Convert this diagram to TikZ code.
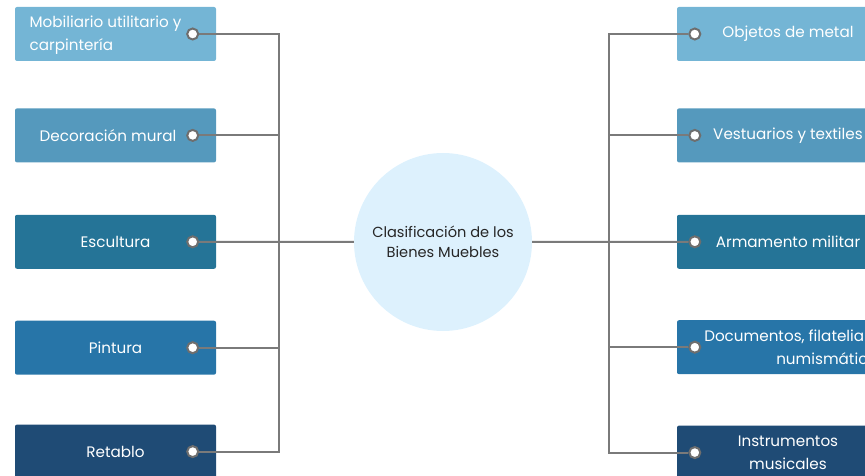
\documentclass[tikz,border=0pt]{standalone}
\usepackage{fontspec}
\setmainfont{Poppins}
\usetikzlibrary{positioning}

\definecolor{boxa}{HTML}{74B5D5}
\definecolor{boxb}{HTML}{5599BD}
\definecolor{boxc}{HTML}{257497}
\definecolor{boxd}{HTML}{2775A8}
\definecolor{boxe}{HTML}{1F4B75}
\definecolor{hubfill}{HTML}{DDF1FD}
\definecolor{linkgray}{HTML}{7A7A7A}
\definecolor{dotgray}{HTML}{6E6E6E}

\begin{document}
\begin{tikzpicture}[x=1pt, y=-1pt,
    lbox/.style={rounded corners=2pt, minimum width=201pt, minimum height=54pt, inner sep=0pt,
      align=center, text=white, font=\fontsize{15.2}{23}\selectfont},
    rbox/.style={lbox, minimum width=222pt},
    hub/.style={circle, fill=hubfill, minimum size=178pt, inner sep=0pt, align=center,
      text=black!85, font=\fontsize{14.6}{20}\selectfont},
    dot/.style={circle, draw=dotgray, fill=white, line width=2pt, minimum size=11pt, inner sep=0pt},
    link/.style={draw=linkgray, line width=2pt}
  ]
    \useasboundingbox (0,0) rectangle (865,476);
    \clip (0,0) rectangle (865,476);

    \node[hub] (hub) at (443,242) {Clasificación de los\\Bienes Muebles};

    % left column
    \node[lbox, fill=boxa] (mob) at (115.5,34) {\begin{tabular}{@{}l@{}}Mobiliario utilitario y\\carpintería\end{tabular}\hspace{20pt}};
    \node[lbox, fill=boxb, below=47pt of mob] (dec) {Decoración mural\hspace{15pt}};
    \node[lbox, fill=boxc, below=52pt of dec] (esc) {Escultura};
    \node[lbox, fill=boxd, below=51.5pt of esc] (pin) {Pintura};
    \node[lbox, fill=boxe, below=49.5pt of pin] (ret) {Retablo};

    % right column
    \node[rbox, fill=boxa] (met) at (788,34) {Objetos de metal};
    \node[rbox, fill=boxb, below=47pt of met] (ves) {Vestuarios y textiles};
    \node[rbox, fill=boxc, below=52pt of ves] (arm) {Armamento militar};
    \node[rbox, fill=boxd, below=51pt of arm, align=left] (doc) {\hspace*{6pt}Documentos, filatelia y\\\hspace*{78pt}numismática};
    \node[rbox, fill=boxe, below=51pt of doc] (ins) {Instrumentos\\musicales};

    % dots
    \foreach \b in {mob,dec,esc,pin,ret}
      \node[dot] (d\b) at ([xshift=-23.5pt]\b.east) {};
    \foreach \b in {met,ves,arm,doc,ins}
      \node[dot] (d\b) at ([xshift=18pt]\b.west) {};

    \coordinate (lbus) at (279,241);
    \coordinate (rbus) at (609,241);

    \draw[link] (dmob.east) -| (lbus) |- (dret.east);
    \draw[link] (ddec.east) -| (lbus);
    \draw[link] (dpin.east) -| (lbus);
    \draw[link] (desc.east) -- (hub);

    \draw[link] (dmet.west) -| (rbus) |- (dins.west);
    \draw[link] (dves.west) -| (rbus);
    \draw[link] (ddoc.west) -| (rbus);
    \draw[link] (hub) -- (darm.west);
  \end{tikzpicture}
\end{document}
